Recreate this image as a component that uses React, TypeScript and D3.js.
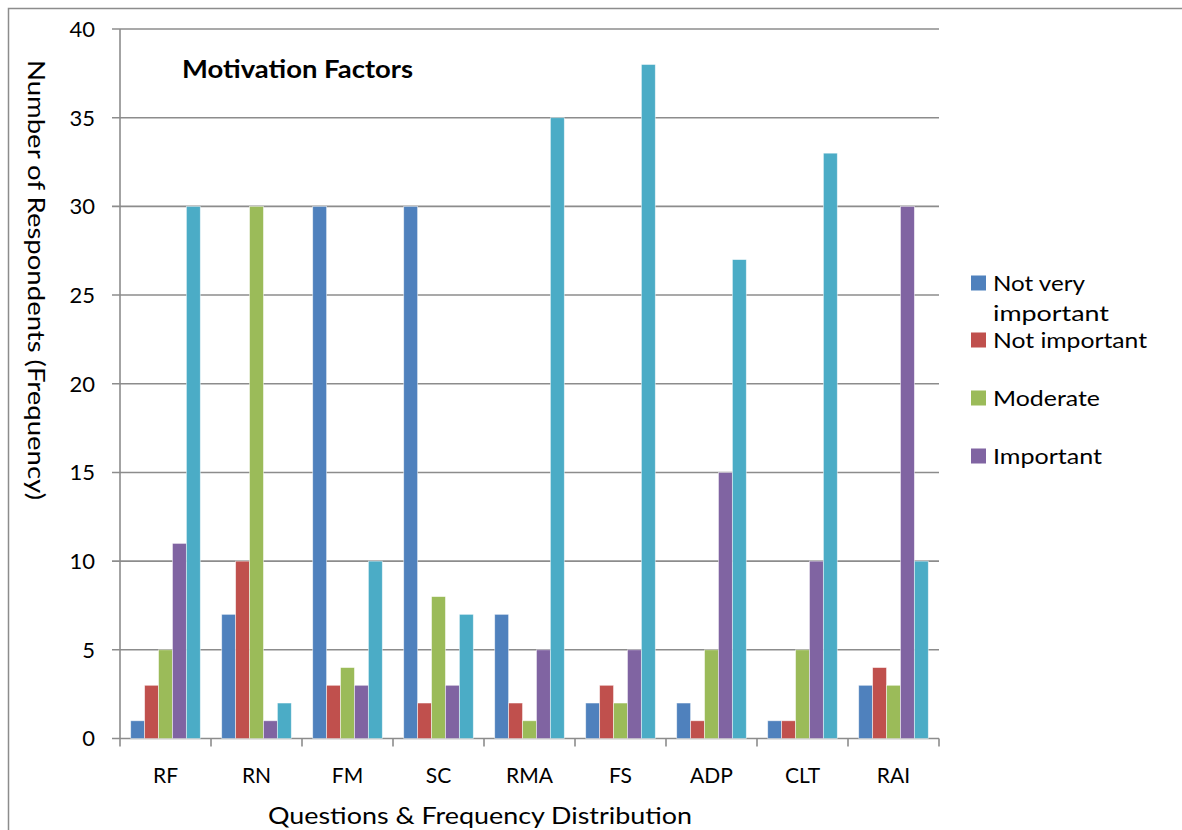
import React from "react";
import * as d3 from "d3";

const categories = ["RF", "RN", "FM", "SC", "RMA", "FS", "ADP", "CLT", "RAI"];
const seriesNames = ["Not very important", "Not important", "Moderate", "Important", "Very important"];
const notVeryImportant = [1, 7, 30, 30, 7, 2, 2, 1, 3];
const notImportant = [3, 10, 3, 2, 2, 3, 1, 1, 4];
const moderate = [5, 30, 4, 8, 1, 2, 5, 5, 3];
const important = [11, 1, 3, 3, 5, 5, 15, 10, 30];
const veryImportant = [30, 2, 10, 7, 35, 38, 27, 33, 10];
const yTicks = [0, 5, 10, 15, 20, 25, 30, 35, 40];
const colors = ["#4F81BD", "#C0504D", "#9BBB59", "#8064A2", "#4BACC6"];

const seriesValues = [notVeryImportant, notImportant, moderate, important, veryImportant];

export default function App() {
  const W = 1182, H = 830;
  const left = 120, right = 939, top = 29, bottom = 738.5;
  const x = d3.scaleBand<string>().domain(categories).range([left, right]).paddingInner(0).paddingOuter(0);
  const y = d3.scaleLinear().domain([0, 40]).range([bottom, top]);
  const inner = d3.scaleBand<number>().domain(d3.range(5)).range([10.7, x.bandwidth() - 10.7]).padding(0);
  const font = "Lato, 'Open Sans', sans-serif";
  const grid = "#8c8c8c";

  const legendItems = [
    { lines: [{ t: "Not very", w: 92 }, { t: "important", w: 116 }], y: 283 },
    { lines: [{ t: "Not important", w: 154 }], y: 340 },
    { lines: [{ t: "Moderate", w: 107 }], y: 398 },
    { lines: [{ t: "Important", w: 109 }], y: 456 },
  ];

  return (
    <svg width={W} height={H} style={{ position: "absolute", left: 0, top: 0, background: "#fff" }}>
      <rect x={0} y={0} width={W} height={H} fill="#fff" />
      <path d={`M8.5,${H} L8.5,8.5 L${W},8.5`} fill="none" stroke={grid} strokeWidth={1.5} />
      {yTicks.map((t) => (
        <g key={t}>
          <line x1={112} x2={right} y1={y(t)} y2={y(t)} stroke={grid} strokeWidth={1.6} />
          <text x={95} y={y(t)} dy="0.36em" textAnchor="end" fontFamily={font} fontSize={22} fill="#000">{t}</text>
        </g>
      ))}
      <line x1={left} x2={left} y1={top} y2={bottom + 8} stroke={grid} strokeWidth={1.6} />
      {categories.map((c, i) => (
        <line key={"t" + i} x1={(x(c) as number) + x.bandwidth()} x2={(x(c) as number) + x.bandwidth()} y1={bottom} y2={bottom + 8} stroke={grid} strokeWidth={1.6} />
      ))}
      {categories.map((c, i) => (
        <g key={c}>
          {seriesValues.map((vals, s) => (
            <rect
              key={s}
              x={(x(c) as number) + (inner(s) as number)}
              y={y(vals[i])}
              width={inner.bandwidth()}
              height={bottom - y(vals[i])}
              fill={colors[s]}
              stroke="rgba(255,255,255,0.6)"
              strokeWidth={0.8}
            />
          ))}
          <text x={(x(c) as number) + x.bandwidth() / 2} y={775} dy="0.36em" textAnchor="middle" fontFamily={font} fontSize={21} fill="#000">{c}</text>
        </g>
      ))}
      <text x={182} y={78} fontFamily={font} fontSize={24} fontWeight="bold" fill="#000" textLength={231} lengthAdjust="spacingAndGlyphs">Motivation Factors</text>
      <text transform={`translate(28,280) rotate(90)`} textAnchor="middle" fontFamily={font} fontSize={24} fill="#000" textLength={440} lengthAdjust="spacingAndGlyphs">Number of Respondents (Frequency)</text>
      <text x={480} y={815} dy="0.36em" textAnchor="middle" fontFamily={font} fontSize={24} fill="#000" textLength={424} lengthAdjust="spacingAndGlyphs">Questions &amp; Frequency Distribution</text>
      {legendItems.map((it, i) => (
        <g key={i}>
          <rect x={971} y={it.y - 7.5} width={15} height={15} fill={colors[i]} />
          {it.lines.map((l, j) => (
            <text key={j} x={993} y={it.y + j * 30} dy="0.36em" fontFamily={font} fontSize={22} fill="#000" textLength={l.w} lengthAdjust="spacingAndGlyphs">{l.t}</text>
          ))}
        </g>
      ))}
    </svg>
  );
}
